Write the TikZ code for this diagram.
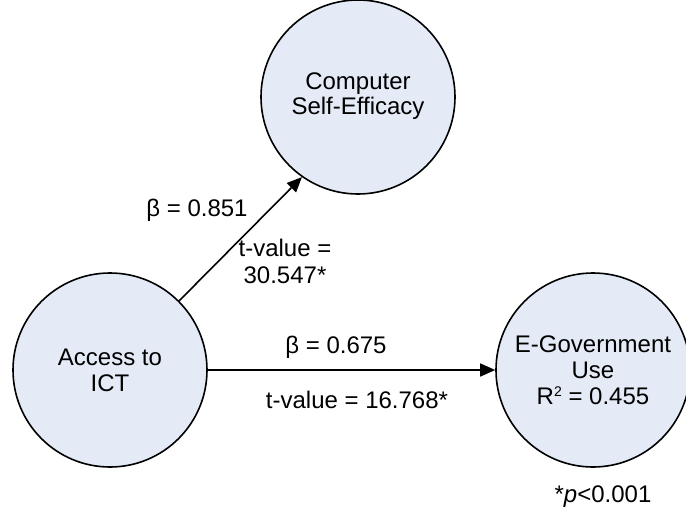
\documentclass[tikz,border=0pt]{standalone}
\usepackage{fontspec}
\setmainfont{Liberation Sans}
\usetikzlibrary{arrows.meta}
\definecolor{nodefill}{RGB}{228,235,246}
\tikzset{
  construct/.style={circle, draw=black, line width=1.6pt, fill=nodefill, minimum size=194pt, inner sep=0pt, align=center, font=\fontsize{24}{26}\selectfont},
  lbl/.style={align=center, font=\fontsize{24}{27}\selectfont, inner sep=0pt},
  path/.style={line width=1.6pt, -{Triangle[length=15pt,width=13pt]}}
}
\begin{document}
\begin{tikzpicture}[x=1pt,y=-1pt]
\useasboundingbox (0,0) rectangle (686,512);
\node[construct] (cse) at (358,97) {\raisebox{-6pt}{\begin{tabular}{c}Computer\\[-1pt]Self-Efficacy\end{tabular}}};
\node[construct] (ict) at (110,370) {Access to\\ICT};
\node[construct] (egov) at (593,370) {E-Government\\Use\\R\raisebox{8pt}{\fontsize{14}{14}\selectfont 2} = 0.455};
\draw[path] (ict.45) -- (cse.235);
\draw[path] (ict.east) -- (egov.west);
\node[lbl] (b1) at (197,210) {β = 0.851};
\node[lbl] (t1) at (285,261) {t-value =\\30.547*};
\node[lbl] (b2) at (336,347) {β = 0.675};
\node[lbl] (t2) at (357,400) {t-value = 16.768*};
\node[lbl] (p) at (603,497) {*\textit{p}<0.001};
\end{tikzpicture}
\end{document}
